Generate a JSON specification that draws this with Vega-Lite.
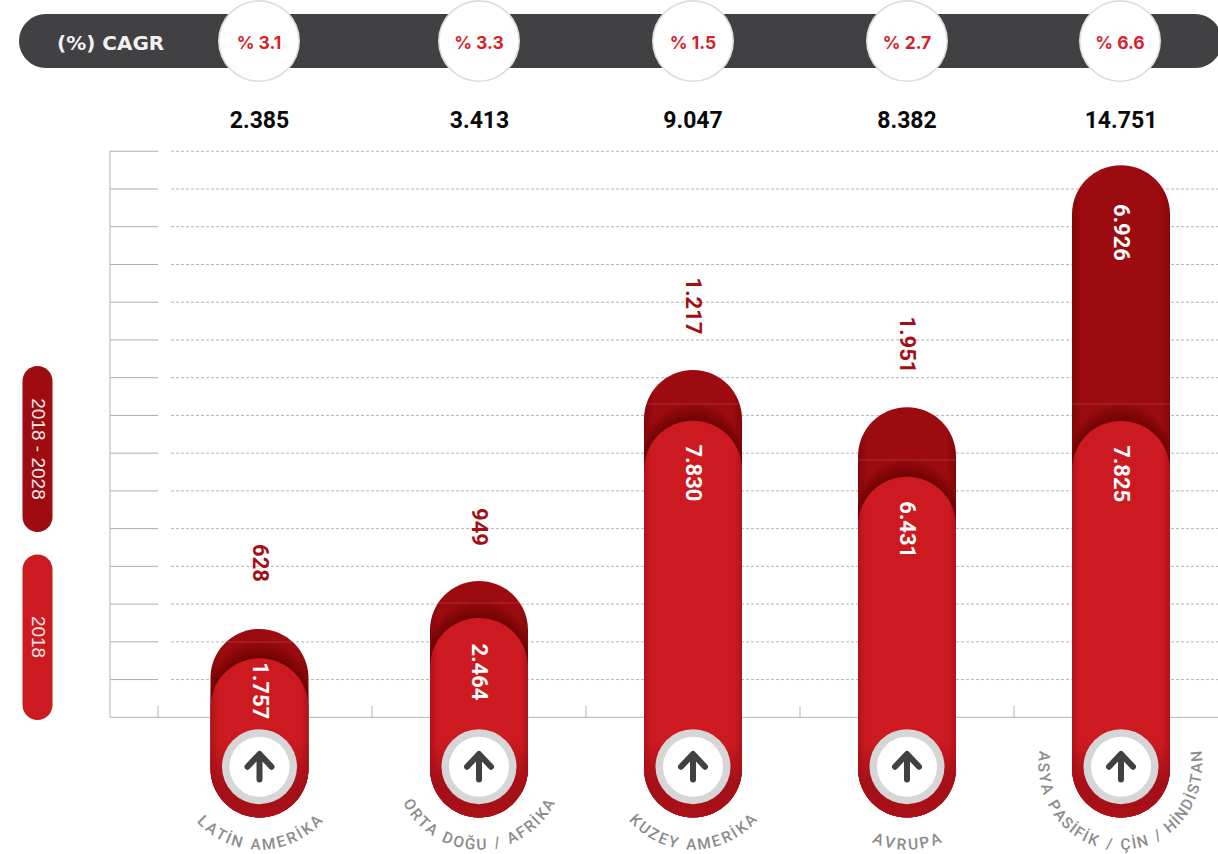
{"$schema":"https://vega.github.io/schema/vega-lite/v6.json","width":1218,"height":854,"padding":0,"autosize":{"type":"none"},"background":"#ffffff","config":{"view":{"stroke":null}},
"datasets":{
"gridSolid":[{"x":110,"x2":158,"y":1000},{"x":110,"x2":158,"y":2000},{"x":110,"x2":158,"y":3000},{"x":110,"x2":158,"y":4000},{"x":110,"x2":158,"y":5000},{"x":110,"x2":158,"y":6000},{"x":110,"x2":158,"y":7000},{"x":110,"x2":158,"y":8000},{"x":110,"x2":158,"y":9000},{"x":110,"x2":158,"y":10000},{"x":110,"x2":158,"y":11000},{"x":110,"x2":158,"y":12000},{"x":110,"x2":158,"y":13000},{"x":110,"x2":158,"y":14000},{"x":110,"x2":158,"y":15000}],
"gridDash":[{"x":171,"x2":1218,"y":1000},{"x":171,"x2":1218,"y":2000},{"x":171,"x2":1218,"y":3000},{"x":171,"x2":1218,"y":4000},{"x":171,"x2":1218,"y":5000},{"x":171,"x2":1218,"y":6000},{"x":171,"x2":1218,"y":7000},{"x":171,"x2":1218,"y":8000},{"x":171,"x2":1218,"y":9000},{"x":171,"x2":1218,"y":10000},{"x":171,"x2":1218,"y":11000},{"x":171,"x2":1218,"y":12000},{"x":171,"x2":1218,"y":13000},{"x":171,"x2":1218,"y":14000},{"x":171,"x2":1218,"y":15000}],
"axisH":[{"x":110,"x2":1218,"y":0}],
"axisV":[{"x":110,"y":0,"y2":15000},{"x":158,"y":0,"y2":300},{"x":372,"y":0,"y2":300},{"x":586,"y":0,"y2":300},{"x":800,"y":0,"y2":300},{"x":1014,"y":0,"y2":300}],
"dark":[{"region":"LATİN AMERİKA","x":259.5,"y":2340,"y2":-2655},{"region":"ORTA DOĞU / AFRİKA","x":479,"y":3612,"y2":-2655},{"region":"KUZEY AMERİKA","x":693,"y":9203,"y2":-2655},{"region":"AVRUPA","x":907,"y":8215,"y2":-2655},{"region":"ASYA PASİFİK / ÇİN / HİNDİSTAN","x":1121,"y":14628,"y2":-2655}],
"seam":[{"x":259.5,"y":1995},{"x":479,"y":3029},{"x":693,"y":8302},{"x":907,"y":6818},{"x":1121,"y":8302}],
"light":[{"region":"LATİN AMERİKA","x":259.5,"y":1563,"y2":-2655},{"region":"ORTA DOĞU / AFRİKA","x":479,"y":2631,"y2":-2655},{"region":"KUZEY AMERİKA","x":693,"y":7860,"y2":-2655},{"region":"AVRUPA","x":907,"y":6376,"y2":-2655},{"region":"ASYA PASİFİK / ÇİN / HİNDİSTAN","x":1121,"y":7852,"y2":-2655}],
"shade":[{"x":259.5,"y":723,"y2":-2655},{"x":479,"y":723,"y2":-2655},{"x":693,"y":723,"y2":-2655},{"x":907,"y":723,"y2":-2655},{"x":1121,"y":723,"y2":-2655}],
"pill":[{"x":19,"x2":1222,"y":18637,"y2":17206}],
"legendDark":[{"x":37.5,"y":9309,"y2":4910}],
"legendLight":[{"x":37.5,"y":4314,"y2":-72}],
"legendText":[{"x":37.5,"y":7110,"t":"2018 - 2028"},{"x":37.5,"y":2127,"t":"2018"}],
"cagr":[{"x":259,"y":17921,"t":"% 3.1"},{"x":479,"y":17921,"t":"% 3.3"},{"x":693,"y":17921,"t":"% 1.5"},{"x":907,"y":17921,"t":"% 2.7"},{"x":1120,"y":17921,"t":"% 6.6"}],
"cagrTitle":[{"x":57,"y":17868,"t":"(%) CAGR"}],
"arrows":[{"x":259.5,"y":-1309},{"x":479,"y":-1309},{"x":693,"y":-1309},{"x":907,"y":-1309},{"x":1121,"y":-1309}],
"totals":[{"x":259.5,"y":15855,"t":"2.385"},{"x":479.5,"y":15855,"t":"3.413"},{"x":693,"y":15855,"t":"9.047"},{"x":907,"y":15855,"t":"8.382"},{"x":1121,"y":15855,"t":"14.751"}],
"added":[{"x":259.5,"y":4089,"t":"628"},{"x":479,"y":5043,"t":"949"},{"x":693,"y":10900,"t":"1.217"},{"x":907,"y":9865,"t":"1.951"}],
"inside":[{"x":259.5,"y":702,"t":"1.757"},{"x":479,"y":1200,"t":"2.464"},{"x":693,"y":6474,"t":"7.830"},{"x":907,"y":4971,"t":"6.431"},{"x":1121,"y":6453,"t":"7.825"},{"x":1121,"y":12847,"t":"6.926"}],
"letters":[
{"c":"L","x":202.9,"y":-2808,"a":45},{"c":"A","x":211.5,"y":-3004,"a":36.9},{"c":"T","x":221,"y":-3167,"a":28.8},{"c":"İ","x":228.5,"y":-3263,"a":22.8},{"c":"N","x":236.9,"y":-3343,"a":16.4},{"c":"A","x":255.6,"y":-3426,"a":2.8},{"c":"M","x":268.7,"y":-3415,"a":-6.6},{"c":"E","x":281,"y":-3351,"a":-15.6},{"c":"R","x":291.6,"y":-3250,"a":-23.7},{"c":"İ","x":299.6,"y":-3143,"a":-30.1},{"c":"K","x":307.1,"y":-3013,"a":-36.5},{"c":"A","x":316.1,"y":-2808,"a":-45},
{"c":"O","x":409.7,"y":-2369,"a":60},{"c":"R","x":416.3,"y":-2626,"a":51.6},{"c":"T","x":423.5,"y":-2837,"a":43.9},{"c":"A","x":431.8,"y":-3020,"a":36.2},{"c":"D","x":447.6,"y":-3259,"a":23.1},{"c":"O","x":458.6,"y":-3359,"a":14.8},{"c":"Ğ","x":470.1,"y":-3416,"a":6.4},{"c":"U","x":481.4,"y":-3428,"a":-1.7},{"c":"/","x":497.1,"y":-3374,"a":-13.1},{"c":"A","x":512.3,"y":-3237,"a":-24.6},{"c":"F","x":521.5,"y":-3105,"a":-32.1},{"c":"R","x":530,"y":-2942,"a":-39.6},{"c":"İ","x":536.3,"y":-2790,"a":-45.7},{"c":"K","x":542,"y":-2618,"a":-51.9},{"c":"A","x":548.3,"y":-2369,"a":-60},
{"c":"K","x":635.5,"y":-2782,"a":46},{"c":"U","x":644.2,"y":-2989,"a":37.6},{"c":"Z","x":653.6,"y":-3154,"a":29.5},{"c":"E","x":663.2,"y":-3276,"a":21.9},{"c":"Y","x":673.2,"y":-3363,"a":14.3},{"c":"A","x":691.2,"y":-3428,"a":1.3},{"c":"M","x":704.1,"y":-3408,"a":-8},{"c":"E","x":716.3,"y":-3337,"a":-16.9},{"c":"R","x":726.7,"y":-3232,"a":-24.9},{"c":"İ","x":734.4,"y":-3122,"a":-31.2},{"c":"K","x":741.8,"y":-2989,"a":-37.6},{"c":"A","x":750.5,"y":-2782,"a":-46},
{"c":"A","x":878.3,"y":-3288,"a":21},{"c":"V","x":889.7,"y":-3379,"a":12.5},{"c":"R","x":901.4,"y":-3424,"a":4},{"c":"U","x":913.1,"y":-3423,"a":-4.4},{"c":"P","x":924.6,"y":-3377,"a":-12.7},{"c":"A","x":935.7,"y":-3288,"a":-21},
{"c":"A","x":1044,"y":-1087,"a":96},{"c":"S","x":1043.5,"y":-1379,"a":88.1},{"c":"Y","x":1044.6,"y":-1663,"a":80.4},{"c":"A","x":1047,"y":-1953,"a":72.3},{"c":"P","x":1054,"y":-2398,"a":59.1},{"c":"A","x":1060,"y":-2643,"a":51},{"c":"S","x":1067,"y":-2857,"a":43.1},{"c":"İ","x":1073,"y":-2995,"a":37.3},{"c":"F","x":1079,"y":-3113,"a":31.7},{"c":"İ","x":1085.4,"y":-3214,"a":26},{"c":"K","x":1093.4,"y":-3304,"a":19.8},{"c":"/","x":1109.2,"y":-3408,"a":8.1},{"c":"Ç","x":1125.4,"y":-3425,"a":-3.5},{"c":"İ","x":1134.1,"y":-3398,"a":-9.8},{"c":"N","x":1142.5,"y":-3347,"a":-16},{"c":"/","x":1157.7,"y":-3186,"a":-27.7},{"c":"H","x":1170.3,"y":-2947,"a":-39.4},{"c":"İ","x":1176.2,"y":-2792,"a":-45.6},{"c":"N","x":1181.5,"y":-2618,"a":-51.9},{"c":"D","x":1187.4,"y":-2363,"a":-60.2},{"c":"İ","x":1191,"y":-2158,"a":-66.4},{"c":"S","x":1193.7,"y":-1953,"a":-72.3},{"c":"T","x":1196,"y":-1684,"a":-79.8},{"c":"A","x":1197,"y":-1394,"a":-87.7},{"c":"N","x":1197,"y":-1087,"a":-96}
]},
"encoding":{"x":{"field":"x","type":"quantitative","scale":{"domain":[0,1218],"nice":false,"zero":false,"padding":0},"axis":null},"y":{"field":"y","type":"quantitative","scale":{"domain":[-3622.55,19008.45],"nice":false,"zero":false,"padding":0},"axis":null}},
"layer":[
{"data":{"name":"gridSolid"},"mark":{"type":"rule","color":"#adadad","strokeWidth":1},"encoding":{"x2":{"field":"x2"}}},
{"data":{"name":"gridDash"},"mark":{"type":"rule","color":"#b5b5b5","strokeWidth":1,"strokeDash":[3,2]},"encoding":{"x2":{"field":"x2"}}},
{"data":{"name":"axisH"},"mark":{"type":"rule","color":"#b3b3b3","strokeWidth":1},"encoding":{"x2":{"field":"x2"}}},
{"data":{"name":"axisV"},"mark":{"type":"rule","color":"#b3b3b3","strokeWidth":1},"encoding":{"y2":{"field":"y2"}}},
{"data":{"name":"dark"},"mark":{"type":"bar","size":98,"cornerRadius":49,"orient":"vertical","color":{"gradient":"linear","x1":0,"y1":0,"x2":1,"y2":0,"stops":[{"offset":0,"color":"#830708"},{"offset":0.1,"color":"#9c0b10"},{"offset":0.9,"color":"#9c0b10"},{"offset":1,"color":"#830708"}]}},"encoding":{"y2":{"field":"y2"}}},
{"data":{"name":"seam"},"mark":{"type":"tick","orient":"horizontal","size":98,"thickness":1,"color":"#ffffff","opacity":0.15}},
{"data":{"name":"light"},"mark":{"type":"bar","size":98,"cornerRadius":49,"orient":"vertical","yOffset":-18,"color":"#5a0000","opacity":0.08},"encoding":{"y2":{"field":"y2"}}},
{"data":{"name":"light"},"mark":{"type":"bar","size":98,"cornerRadius":49,"orient":"vertical","yOffset":-15,"color":"#5a0000","opacity":0.1},"encoding":{"y2":{"field":"y2"}}},
{"data":{"name":"light"},"mark":{"type":"bar","size":98,"cornerRadius":49,"orient":"vertical","yOffset":-12,"color":"#5a0000","opacity":0.12},"encoding":{"y2":{"field":"y2"}}},
{"data":{"name":"light"},"mark":{"type":"bar","size":98,"cornerRadius":49,"orient":"vertical","yOffset":-9,"color":"#5a0000","opacity":0.14},"encoding":{"y2":{"field":"y2"}}},
{"data":{"name":"light"},"mark":{"type":"bar","size":98,"cornerRadius":49,"orient":"vertical","yOffset":-6,"color":"#5a0000","opacity":0.16},"encoding":{"y2":{"field":"y2"}}},
{"data":{"name":"light"},"mark":{"type":"bar","size":98,"cornerRadius":49,"orient":"vertical","yOffset":-3,"color":"#5a0000","opacity":0.18},"encoding":{"y2":{"field":"y2"}}},
{"data":{"name":"light"},"mark":{"type":"bar","size":98,"cornerRadius":49,"orient":"vertical","color":{"gradient":"linear","x1":0,"y1":0,"x2":1,"y2":0,"stops":[{"offset":0,"color":"#b0121a"},{"offset":0.08,"color":"#cd1a20"},{"offset":0.92,"color":"#cd1a20"},{"offset":1,"color":"#b0121a"}]}},"encoding":{"y2":{"field":"y2"}}},
{"data":{"name":"shade"},"mark":{"type":"bar","size":98,"cornerRadius":49,"orient":"vertical","color":{"gradient":"linear","x1":0,"y1":0,"x2":0,"y2":1,"stops":[{"offset":0,"color":"rgba(160,14,22,0)"},{"offset":0.4,"color":"rgba(160,14,22,0)"},{"offset":0.75,"color":"rgba(160,14,22,0.9)"},{"offset":1,"color":"rgba(170,16,24,1)"}]}},"encoding":{"y2":{"field":"y2"}}},
{"data":{"name":"pill"},"mark":{"type":"bar","orient":"vertical","cornerRadius":27,"clip":true,"color":"#414042"},"encoding":{"x2":{"field":"x2"},"y2":{"field":"y2"}}},
{"data":{"name":"legendDark"},"mark":{"type":"bar","size":30,"cornerRadius":15,"orient":"vertical","color":"#9e0b10"},"encoding":{"y2":{"field":"y2"}}},
{"data":{"name":"legendLight"},"mark":{"type":"bar","size":30,"cornerRadius":15,"orient":"vertical","color":"#cd1a20"},"encoding":{"y2":{"field":"y2"}}},
{"data":{"name":"legendText"},"mark":{"type":"text","angle":90,"align":"center","baseline":"middle","font":"Liberation Sans","fontSize":19,"color":"#fbe9e9"},"encoding":{"text":{"field":"t"}}},
{"data":{"name":"cagr"},"mark":{"type":"point","filled":true,"size":6724,"color":"#dddddd","opacity":1}},
{"data":{"name":"cagr"},"mark":{"type":"point","filled":true,"size":6200,"color":"#ffffff","opacity":1}},
{"data":{"name":"cagr"},"mark":{"type":"text","align":"center","baseline":"middle","yOffset":3,"font":"Inter","fontWeight":700,"fontSize":17.5,"color":"#d81f2a"},"encoding":{"text":{"field":"t"}}},
{"data":{"name":"cagrTitle"},"mark":{"type":"text","align":"left","baseline":"middle","yOffset":1,"font":"DejaVu Sans","fontWeight":700,"fontSize":20,"color":"#f1f1f1"},"encoding":{"text":{"field":"t"}}},
{"data":{"name":"arrows"},"mark":{"type":"point","filled":true,"size":5625,"color":"#d6d6d6","opacity":1}},
{"data":{"name":"arrows"},"mark":{"type":"point","filled":true,"size":3600,"color":"#ffffff","opacity":1}},
{"data":{"name":"arrows"},"mark":{"type":"point","filled":false,"size":900,"shape":"M0,0.85L0,-0.8M-0.8,0L0,-0.85L0.8,0","color":"#414042","strokeWidth":6,"strokeCap":"round","strokeJoin":"round","opacity":1}},
{"data":{"name":"totals"},"mark":{"type":"text","align":"center","baseline":"middle","yOffset":2,"font":"Roboto","fontWeight":700,"fontSize":23,"color":"#0a0a0a"},"encoding":{"text":{"field":"t"}}},
{"data":{"name":"added"},"mark":{"type":"text","angle":90,"align":"center","baseline":"middle","font":"Roboto","fontWeight":700,"fontSize":22,"color":"#a50d14"},"encoding":{"text":{"field":"t"}}},
{"data":{"name":"inside"},"mark":{"type":"text","angle":90,"align":"center","baseline":"middle","font":"Roboto","fontWeight":700,"fontSize":22,"color":"#ffffff"},"encoding":{"text":{"field":"t"}}},
{"data":{"name":"letters"},"mark":{"type":"text","align":"center","baseline":"middle","font":"Roboto","fontWeight":500,"fontSize":15.5,"yOffset":-2,"color":"#8c8c8e"},"encoding":{"text":{"field":"c"},"angle":{"field":"a","type":"quantitative","scale":null}}}
]}
